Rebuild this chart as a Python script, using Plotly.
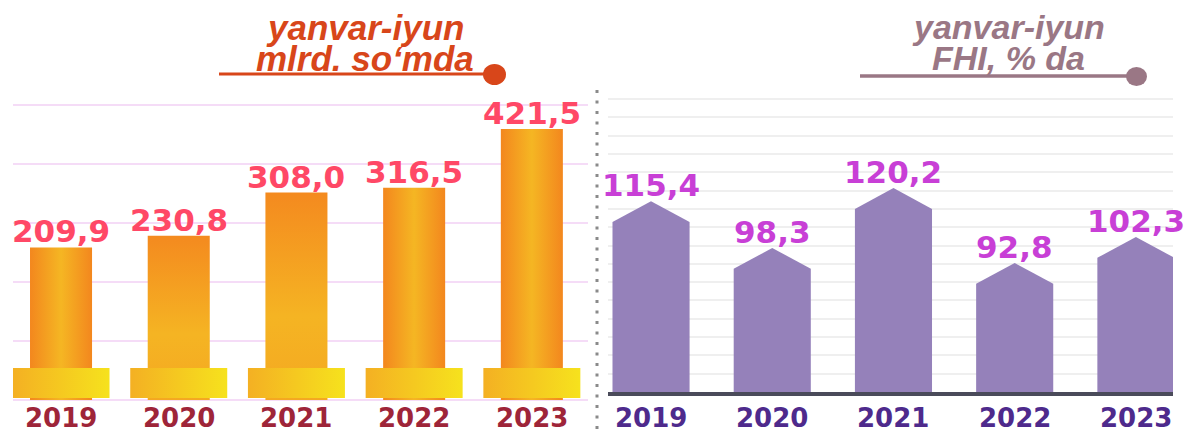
import plotly.graph_objects as go

# ---------------- data ----------------
years = ["2019", "2020", "2021", "2022", "2023"]
sum_values = [209.9, 230.8, 308.0, 316.5, 421.5]      # mlrd. so'm
fhi_values = [115.4, 98.3, 120.2, 92.8, 102.3]        # FHI, %

left_title = ["yanvar-iyun", "mlrd. so\u2018mda"]
right_title = ["yanvar-iyun", "FHI, % da"]

# ---------------- layout constants ----------------
W, H = 1186, 433


def px(x):
    return x / W


def py(y):
    return 1 - y / H


VAL_FONT = "DejaVu Sans, Verdana, sans-serif"
TITLE_FONT = "Liberation Sans, Arial, sans-serif"

# left axis (0.56 px per unit)
L_K = 0.56
L_YMIN, L_YMAX = -62.5, 464.3
L_PAD = 3 / L_K
L_XR = [-0.408, 4.477]
BAR_W = 0.527
BASE_W = 0.824
BASE_Y0, BASE_Y1 = -58.9, -5.4
grad_kind = ["horizontal", "vertical", "vertical", "horizontal", "horizontal"]

# right axis (2.72 px per unit)
R_K = 2.72
R_YMIN, R_YMAX = 45.6, 152.8
R_PAD = 3 / R_K
R_XR = [-0.355, 4.306]
PBAR_W = 0.636
ROOF = 7.6

fig = go.Figure()

orange_h = [[0, "#F3871E"], [0.5, "#F5B623"], [1, "#F3871E"]]
orange_v = [[0, "#F4A821"], [0.4, "#F5B423"], [1, "#F48A1F"]]
base_cs = [[0, "#F4B023"], [1, "#F6E21D"]]

# left bars (gradient polygons)
for i, v in enumerate(sum_values):
    x0, x1 = i - BAR_W / 2, i + BAR_W / 2
    cs = orange_h if grad_kind[i] == "horizontal" else orange_v
    fig.add_trace(go.Scatter(
        x=[x0, x1, x1, x0, x0], y=[L_YMIN, L_YMIN, v, v, L_YMIN],
        mode="lines", fill="toself", line=dict(width=0),
        fillgradient=dict(type=grad_kind[i], colorscale=cs),
        hoverinfo="skip", showlegend=False, xaxis="x", yaxis="y"))

# left base blocks
for i, _ in enumerate(sum_values):
    x0, x1 = i - BASE_W / 2, i + BASE_W / 2
    fig.add_trace(go.Scatter(
        x=[x0, x1, x1, x0, x0], y=[BASE_Y0, BASE_Y0, BASE_Y1, BASE_Y1, BASE_Y0],
        mode="lines", fill="toself", line=dict(width=0),
        fillgradient=dict(type="horizontal", colorscale=base_cs),
        hoverinfo="skip", showlegend=False, xaxis="x", yaxis="y"))

# right pentagon bars
for i, v in enumerate(fhi_values):
    x0, x1 = i - PBAR_W / 2, i + PBAR_W / 2
    fig.add_trace(go.Scatter(
        x=[x0, x0, i, x1, x1, x0],
        y=[0, v - ROOF, v, v - ROOF, 0, 0],
        mode="lines", fill="toself", line=dict(width=0),
        fillcolor="#9581BA",
        hoverinfo="skip", showlegend=False, xaxis="x2", yaxis="y2"))

annotations = []
for i, v in enumerate(sum_values):
    annotations.append(dict(
        x=i, y=v, xref="x", yref="y", yanchor="bottom", yshift=-4,
        text="<b>" + f"{v:.1f}".replace(".", ",") + "</b>", showarrow=False,
        font=dict(family=VAL_FONT, size=31, color="#FF4866")))
    annotations.append(dict(
        x=i, y=py(418), xref="x", yref="paper", yanchor="middle",
        text="<b>" + years[i] + "</b>", showarrow=False,
        font=dict(family=VAL_FONT, size=26, color="#9E2539")))

for i, v in enumerate(fhi_values):
    annotations.append(dict(
        x=i, y=v, xref="x2", yref="y2", yanchor="bottom", yshift=-4,
        text="<b>" + f"{v:.1f}".replace(".", ",") + "</b>", showarrow=False,
        font=dict(family=VAL_FONT, size=31, color="#C83FD6")))
    annotations.append(dict(
        x=i, y=py(418), xref="x2", yref="paper", yanchor="middle",
        text="<b>" + years[i] + "</b>", showarrow=False,
        font=dict(family=VAL_FONT, size=26, color="#4E2A8C")))

# titles
for k, t in enumerate(left_title):
    annotations.append(dict(
        x=px(365), y=py(27 + 31 * k), xref="paper", yref="paper",
        xanchor="center", yanchor="middle", showarrow=False,
        text="<b><i>" + t + "</i></b>",
        font=dict(family=TITLE_FONT, size=35, color="#D8461A")))
for k, t in enumerate(right_title):
    annotations.append(dict(
        x=px(1008), y=py(27 + 31 * k), xref="paper", yref="paper",
        xanchor="center", yanchor="middle", showarrow=False,
        text="<b><i>" + t + "</i></b>",
        font=dict(family=TITLE_FONT, size=34, color="#9A7785")))

shapes = [
    # left title underline + dot
    dict(type="line", xref="paper", yref="paper", x0=px(219), x1=px(492),
         y0=py(74), y1=py(74), line=dict(color="#D8461A", width=3)),
    dict(type="circle", xref="paper", yref="paper", x0=px(483), x1=px(506),
         y0=py(64), y1=py(85), fillcolor="#D8461A", line=dict(width=0)),
    # right title underline + dot
    dict(type="line", xref="paper", yref="paper", x0=px(860), x1=px(1133),
         y0=py(76), y1=py(76), line=dict(color="#9A7785", width=3.5)),
    dict(type="circle", xref="paper", yref="paper", x0=px(1126), x1=px(1147),
         y0=py(67), y1=py(86), fillcolor="#9A7785", line=dict(width=0)),
    # dotted divider
    dict(type="line", xref="paper", yref="paper", x0=px(597), x1=px(597),
         y0=py(90), y1=py(433), line=dict(color="#8A8A8A", width=3, dash="3px,7.5px")),
]

fig.update_layout(
    width=W, height=H, margin=dict(l=0, r=0, t=0, b=0),
    paper_bgcolor="white", plot_bgcolor="rgba(0,0,0,0)",
    showlegend=False, annotations=annotations, shapes=shapes,
    xaxis=dict(domain=[px(13), px(588)], range=L_XR, showgrid=False,
               zeroline=False, showticklabels=False, ticks="", anchor="y"),
    yaxis=dict(domain=[py(403), py(102)], range=[L_YMIN - L_PAD, L_YMAX + L_PAD],
               tick0=L_YMIN, dtick=(L_YMAX - L_YMIN) / 5, showgrid=True,
               gridcolor="#F5DCF7", gridwidth=2, zeroline=False,
               showticklabels=False, ticks="", anchor="x"),
    xaxis2=dict(domain=[px(608), px(1173)], range=R_XR, showgrid=False,
                zeroline=False, showticklabels=False, ticks="", anchor="y2",
                showline=True, linecolor="#4A4B5A", linewidth=4),
    yaxis2=dict(domain=[py(392), py(96)], range=[R_YMIN, R_YMAX + R_PAD],
                tick0=R_YMIN, dtick=(R_YMAX - R_YMIN) / 16, showgrid=True,
                gridcolor="#EFEFEF", gridwidth=2, zeroline=False,
                showticklabels=False, ticks="", anchor="x2"),
)

fig.write_html("out.html", config={"displayModeBar": False},
               post_script="document.body.style.margin='0';document.body.style.overflow='hidden';")
